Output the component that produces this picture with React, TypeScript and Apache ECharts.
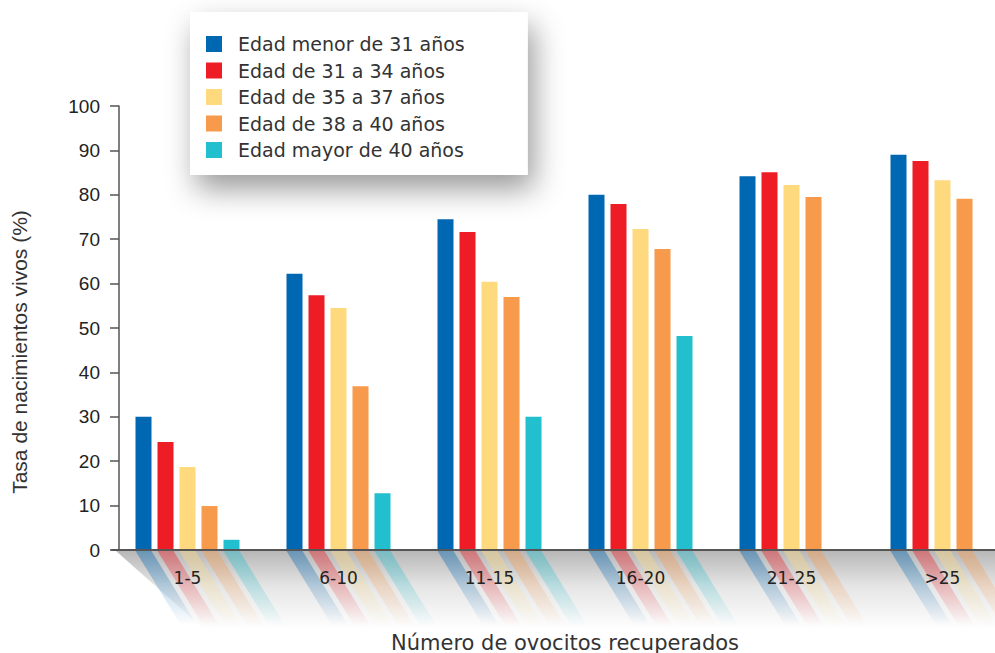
import React, { useEffect, useRef } from "react";
import * as echarts from "echarts";

const categories = ["1-5", "6-10", "11-15", "16-20", "21-25", ">25"];
const seriesNames = [
  "Edad menor de 31 años",
  "Edad de 31 a 34 años",
  "Edad de 35 a 37 años",
  "Edad de 38 a 40 años",
  "Edad mayor de 40 años",
];
const under31 = [30.0, 62.2, 74.5, 80.0, 84.2, 89.0];
const age31to34 = [24.3, 57.4, 71.6, 77.9, 85.1, 87.6];
const age35to37 = [18.7, 54.5, 60.4, 72.3, 82.2, 83.3];
const age38to40 = [9.9, 36.9, 57.0, 67.8, 79.5, 79.1];
const over40 = [2.3, 12.8, 30.0, 48.2, null, null];
const colors = ["#0067b3", "#ee1d25", "#fed97e", "#f79a4b", "#22bfce"];
const yMin = 0;
const yMax = 100;
const yInterval = 10;

const allSeries = [under31, age31to34, age35to37, age38to40, over40];

function rgba(hex: string, a: number) {
  const r = parseInt(hex.slice(1, 3), 16);
  const g = parseInt(hex.slice(3, 5), 16);
  const b = parseInt(hex.slice(5, 7), 16);
  return `rgba(${r},${g},${b},${a})`;
}

export default function App() {
  const ref = useRef<HTMLDivElement>(null);
  useEffect(() => {
    const chart = echarts.init(ref.current!, null, { renderer: "svg" });
    const reflData: number[][] = [];
    allSeries.forEach((arr, s) => {
      arr.forEach((v, i) => {
        if (v !== null && v !== undefined) reflData.push([i, 0, s]);
      });
    });
    const option: any = {
      animation: false,
      backgroundColor: "#ffffff",
      grid: {
        left: 112,
        top: 106,
        width: 906,
        height: 444,
        containLabel: false,
        outerBoundsMode: "none",
      },
      legend: {
        data: seriesNames,
        orient: "vertical",
        left: 190,
        top: 12,
        padding: [22.5, 63, 15.5, 16],
        itemWidth: 16,
        itemHeight: 16,
        itemGap: 7.5,
        icon: "rect",
        backgroundColor: "#ffffff",
        shadowBlur: 30,
        shadowColor: "rgba(0,0,0,0.4)",
        shadowOffsetX: 6,
        shadowOffsetY: 14,
        textStyle: {
          fontFamily: "DejaVu Sans",
          fontSize: 19,
          color: "#333333",
          padding: [0, 0, 0, 11],
        },
      },
      graphic: [
        {
          type: "polygon",
          z: -1,
          silent: true,
          shape: {
            points: [
              [116, 551],
              [995, 551],
              [995, 630],
              [205, 630],
            ],
          },
          style: {
            fill: new echarts.graphic.LinearGradient(0, 0, 0, 1, [
              { offset: 0, color: "rgba(0,0,0,0.28)" },
              { offset: 0.45, color: "rgba(0,0,0,0.10)" },
              { offset: 1, color: "rgba(0,0,0,0)" },
            ]),
          },
        },
      ],
      xAxis: {
        type: "category",
        data: categories,
        z: 5,
        name: "Número de ovocitos recuperados",
        nameLocation: "middle",
        nameGap: 82,
        nameTextStyle: { fontFamily: "DejaVu Sans", fontSize: 21, color: "#333333" },
        axisLine: { show: true, lineStyle: { color: "#555555", width: 2 } },
        axisTick: { show: false },
        axisLabel: { fontFamily: "DejaVu Sans", fontSize: 17, color: "#222222", margin: 19 },
        splitLine: { show: false },
      },
      yAxis: {
        type: "value",
        min: yMin,
        max: yMax,
        interval: yInterval,
        offset: -7,
        name: "Tasa de nacimientos vivos (%)",
        nameLocation: "middle",
        nameGap: 89,
        nameTextStyle: {
          fontFamily: "Liberation Sans",
          fontSize: 21,
          color: "#333333",
          padding: [0, 48, 0, 0],
        },
        axisLine: { show: true, lineStyle: { color: "#555555", width: 1.5 } },
        axisTick: { show: true, length: 9, lineStyle: { color: "#555555", width: 1.5 } },
        axisLabel: { fontFamily: "Liberation Sans", fontSize: 19, color: "#222222", margin: 19 },
        splitLine: { show: false },
      },
      series: [
        ...allSeries.map((arr, s) => ({
          type: "bar",
          name: seriesNames[s],
          data: arr,
          barWidth: 16,
          barGap: "37.5%",
          z: 3,
          itemStyle: { color: colors[s] },
        })),
        {
          type: "custom",
          name: "reflejo",
          data: reflData,
          encode: { x: 0, y: 1 },
          clip: false,
          silent: true,
          z: 2,
          renderItem: (params: any, api: any) => {
            const i = api.value(0);
            const s = api.value(2);
            const base = api.coord([i, 0]);
            const x0 = base[0] + (s - 2) * 22 - 8;
            const y0 = base[1] + 1;
            const L = 75;
            const dx = 46;
            const c = colors[s];
            return {
              type: "polygon",
              shape: {
                points: [
                  [x0, y0],
                  [x0 + 16, y0],
                  [x0 + 16 + dx, y0 + L],
                  [x0 + dx, y0 + L],
                ],
              },
              style: {
                fill: new echarts.graphic.LinearGradient(0, 0, 0, 1, [
                  { offset: 0, color: rgba(c, 0.42) },
                  { offset: 1, color: rgba(c, 0) },
                ]),
              },
            };
          },
        },
      ],
    };
    chart.setOption(option);
    return () => chart.dispose();
  }, []);
  return (
    <div
      ref={ref}
      style={{ position: "fixed", left: 0, top: 0, width: 995, height: 653, background: "#fff" }}
    />
  );
}
